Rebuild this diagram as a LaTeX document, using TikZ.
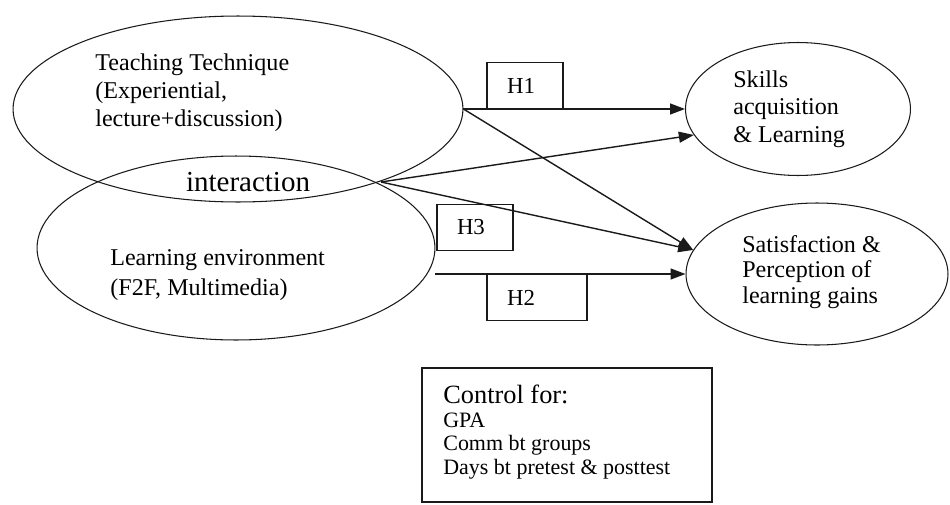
\documentclass[tikz,border=0pt]{standalone}
\usepackage{fontspec}
\setmainfont{Liberation Serif}
\usetikzlibrary{arrows.meta, shapes.geometric}
\definecolor{ink}{HTML}{1A1A1A}

\begin{document}
\begin{tikzpicture}[x=0.02cm, y=-0.02cm,
  oval/.style={ellipse, draw=ink, line width=0.6pt, inner sep=0pt},
  lbl/.style={anchor=west, align=left, inner sep=0pt, font=\fontsize{13.7}{16}\selectfont},
  hyp/.style={draw=ink, line width=0.7pt, minimum height=0.93cm, inner xsep=0.4cm,
    inner ysep=0pt, text width=#1, align=left, font=\fontsize{13}{15}\selectfont},
  conn/.style={draw=ink, line width=0.8pt, -{Triangle[length=0.3cm, width=0.22cm]}}]
  \useasboundingbox (0,0) rectangle (950,504);

  % Ellipses
  \node[oval, minimum width=9cm, minimum height=3.72cm] (teach) at (238,109) {};
  \node[oval, minimum width=7.96cm, minimum height=3.68cm] (learn) at (236,248) {};
  \node[oval, minimum width=4.5cm, minimum height=2.66cm] (skills) at (798,109) {};
  \node[oval, minimum width=5.24cm, minimum height=2.84cm] (sat) at (817,274) {};

  % Texts inside the ellipses
  \node[lbl] (teachtext) at (95,93) {Teaching Technique\\(Experiential,\\lecture+discussion)};
  \node[lbl, font=\fontsize{13.7}{17}\selectfont] (learntext) at (110,275)
    {Learning environment\\(F2F, Multimedia)};
  \node[lbl, font=\fontsize{13.7}{15.6}\selectfont] (skillstext) at (733,109)
    {Skills\\acquisition\\\& Learning};
  \node[lbl, font=\fontsize{13.7}{14.5}\selectfont] (sattext) at (742,272)
    {Satisfaction \&\\Perception of\\learning gains};
  \node[inner sep=0pt, font=\fontsize{16.5}{18}\selectfont] (inter) at (248,182) {interaction};

  % Hypothesis boxes
  \node[hyp=0.72cm] (h1) at (525,86) {H1};
  \node[hyp=0.72cm] (h3) at (475,227.5) {H3};
  \node[hyp=1.2cm] (h2) at (537,297.5) {H2};

  % Paths
  \coordinate (meet) at (381,182);
  \draw[conn] (teach.east) -- (skills.west);
  \draw[conn] (teach.east) -- (sat.169);
  \draw[conn] (meet) -- (skills.194);
  \draw[conn] (meet) -- (sat.169);
  \draw[conn] (learn.east |- sat.west) -- (sat.west);

  % Controls
  \node[draw=ink, line width=0.8pt, minimum width=5.8cm, minimum height=2.68cm] (control) at (567,435) {};
  \node[lbl, font=\fontsize{12.5}{13.5}\selectfont] (ctrltext) at (443,432)
    {{\fontsize{15}{13.5}\selectfont Control for:}\\GPA\\Comm bt groups\\Days bt pretest \& posttest};
\end{tikzpicture}
\end{document}
